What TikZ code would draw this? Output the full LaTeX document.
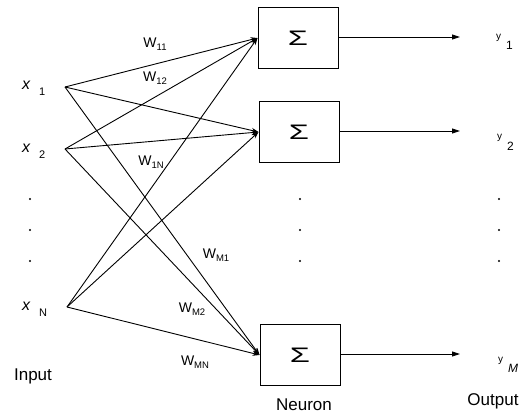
\documentclass[tikz,border=0pt]{standalone}
\usepackage{fontspec}
\setmainfont{Liberation Sans}
\usetikzlibrary{arrows.meta}
\newcommand{\wlab}[1]{{\fontsize{14}{14}\selectfont W}\raisebox{-2.5pt}{\fontsize{9.5}{9.5}\selectfont #1}}
\newcommand{\xlab}[1]{{\fontsize{16}{16}\selectfont\itshape x}\hspace{9pt}\raisebox{-6pt}{\fontsize{11}{11}\selectfont #1}}
\newcommand{\ylab}[1]{\raisebox{10pt}{\fontsize{10}{10}\selectfont y}\hspace{5pt}{\fontsize{12}{12}\selectfont #1}}
\tikzset{
  neuron/.style={draw, line width=1pt, minimum width=80pt, minimum height=61pt, inner sep=0pt},
  conn/.style={line width=0.9pt, -{Stealth[length=7pt,width=5pt]}},
  outarrow/.style={line width=0.9pt, -{Triangle[length=8pt,width=5pt]}},
  wl/.style={inner sep=0pt},
  dotmark/.style={circle, fill, inner sep=0pt, minimum size=2.2pt},
  caption/.style={font=\fontsize{17}{17}\selectfont, inner sep=0pt, anchor=base}
}
\begin{document}
\begin{tikzpicture}[x=1pt,y=-1pt]
\useasboundingbox (0,0) rectangle (524,414);
% neurons
\node[neuron] (b1) at (298,38) {\scalebox{1.55}[1]{\fontsize{21}{21}\selectfont Σ}};
\node[neuron] (b2) at (299,132) {\scalebox{1.55}[1]{\fontsize{21}{21}\selectfont Σ}};
\node[neuron] (b3) at (300,355) {\scalebox{1.55}[1]{\fontsize{21}{21}\selectfont Σ}};
% inputs
\coordinate (i1) at (65,87);
\coordinate (i2) at (65,149);
\coordinate (iN) at (67,307);
\node[inner sep=0pt, anchor=base west] (lx1) at (22,90) {\xlab{1}};
\node[inner sep=0pt, anchor=base west] (lx2) at (22,153) {\xlab{2}};
\node[inner sep=0pt, anchor=base west] (lxN) at (22,310) {\xlab{N}};
% connections
\draw[conn] (i1) -- (b1.west);
\draw[conn] (i1) -- (b2.west);
\draw[conn] (i1) -- (b3.west);
\draw[conn] (i2) -- (b1.west);
\draw[conn] (i2) -- (b2.west);
\draw[conn] (i2) -- (b3.west);
\draw[conn] (iN) -- (b1.west);
\draw[conn] (iN) -- (b2.west);
\draw[conn] (iN) -- (b3.west);
% weights
\node[wl] (w11) at (155,44) {\wlab{11}};
\node[wl] (w12) at (155,78) {\wlab{12}};
\node[wl] (w1N) at (151,162) {\wlab{1N}};
\node[wl] (wM1) at (216,255) {\wlab{M1}};
\node[wl] (wM2) at (192,309) {\wlab{M2}};
\node[wl] (wMN) at (195,362) {\wlab{MN}};
% outputs
\coordinate (o1) at (460,37);
\coordinate (o2) at (460,131);
\coordinate (oM) at (460,354);
\draw[outarrow] (b1.east |- o1) -- (o1);
\draw[outarrow] (b2.east |- o2) -- (o2);
\draw[outarrow] (b3.east |- oM) -- (oM);
\node[inner sep=0pt, anchor=base west] (ly1) at (496,50) {\ylab{1}};
\node[inner sep=0pt, anchor=base west] (ly2) at (497,150) {\ylab{2}};
\node[inner sep=0pt, anchor=base west] (lyM) at (498,372) {\ylab{\itshape M}};
% dots
\foreach \yy in {199,230,261} {
  \node[dotmark] at (30,\yy) {};
  \node[dotmark] at (300,\yy) {};
  \node[dotmark] at (499,\yy) {};
}
% captions
\node[caption] (cin) at (33,380) {Input};
\node[caption] (cne) at (304,410) {Neuron};
\node[caption] (cout) at (493,405) {Output};
\end{tikzpicture}
\end{document}
